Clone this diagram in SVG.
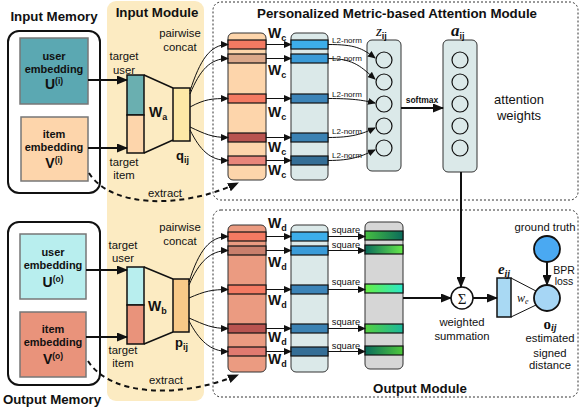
<svg xmlns="http://www.w3.org/2000/svg" width="581" height="409" viewBox="0 0 581 409">
<defs>
<style>
text{font-family:"Liberation Sans",Arial,sans-serif;fill:#111}
.t{font-size:13.3px;font-weight:bold}
.b11{font-size:11px;font-weight:bold}
.r11{font-size:11.3px}
.sm{font-size:8px}
.sq{font-size:9.3px}
.W{font-size:14px;font-weight:bold}
.sub{font-size:9px;font-weight:bold}
.ser{font-family:"Liberation Serif","Times New Roman",serif}
.mem{fill:none;stroke:#111;stroke-width:2}
.emb{stroke:#777;stroke-width:1.5}
.col{stroke:#333;stroke-width:1}
.stripe{stroke:#111;stroke-width:1.2}
.mod{fill:none;stroke:#333;stroke-width:1;stroke-dasharray:2,2}
.thin{fill:none;stroke:#111;stroke-width:1;marker-end:url(#ah)}
.thick{fill:none;stroke:#111;stroke-width:2;marker-end:url(#ahb)}
.dash{fill:none;stroke:#111;stroke-width:2;stroke-dasharray:5,4;marker-end:url(#ahb)}
.node{fill:none;stroke:#111;stroke-width:1.2}
.ln{fill:none;stroke:#111;stroke-width:1.5}
</style>
<marker id="ah" markerUnits="userSpaceOnUse" markerWidth="8" markerHeight="7" refX="7" refY="3.5" orient="auto"><path d="M0,0 L8,3.5 L0,7 z" fill="#111"/></marker>
<marker id="ahb" markerUnits="userSpaceOnUse" markerWidth="11" markerHeight="9" refX="10" refY="4.5" orient="auto"><path d="M0,0 L11,4.5 L0,9 z" fill="#111"/></marker>
<linearGradient id="g1" x1="0" x2="1"><stop offset="0" stop-color="#46c040"/><stop offset="1" stop-color="#0b6b5c"/></linearGradient>
<linearGradient id="g2" x1="0" x2="1"><stop offset="0" stop-color="#0b6b5c"/><stop offset="1" stop-color="#66e84a"/></linearGradient>
<linearGradient id="g3" x1="0" x2="1"><stop offset="0" stop-color="#66ee44"/><stop offset="1" stop-color="#2ce8c8"/></linearGradient>
<linearGradient id="g4" x1="0" x2="1"><stop offset="0" stop-color="#55d040"/><stop offset="1" stop-color="#1cb89c"/></linearGradient>
<linearGradient id="g5" x1="0" x2="1"><stop offset="0" stop-color="#0b6b5c"/><stop offset="1" stop-color="#4ec83c"/></linearGradient>
</defs>

<!-- backgrounds -->
<g id="input-module">
<rect x="107" y="1" width="97" height="400" rx="9" fill="#fcebc2"/>
<text class="t" x="157" y="17" text-anchor="middle">Input Module</text>
</g>
<g id="attention-module">
<rect class="mod" x="213" y="2" width="365" height="198" rx="8"/>
<text class="t" x="397" y="18" text-anchor="middle" textLength="280" lengthAdjust="spacingAndGlyphs">Personalized Metric-based Attention Module</text>
</g>
<g id="output-module">
<rect class="mod" x="213" y="210" width="365" height="187" rx="8"/>
<text class="t" x="420" y="393" text-anchor="middle">Output Module</text>
</g>

<!-- Input memory -->
<g id="input-memory">
<text class="t" x="54" y="21" text-anchor="middle">Input Memory</text>
<rect class="mem" x="8" y="31" width="92" height="162" rx="11"/>
</g>
<g id="user-emb-i">
<rect class="emb" x="20" y="38" width="68" height="66" fill="#5ba8b2"/>
<text class="b11" x="54" y="60" text-anchor="middle">user</text>
<text class="b11" x="54" y="73" text-anchor="middle">embedding</text>
<text x="54" y="89" text-anchor="middle" font-size="14" font-weight="bold">U<tspan font-size="8.5" dy="-5">(i)</tspan></text>
</g>
<g id="item-emb-i">
<rect class="emb" x="21" y="117" width="67" height="64" fill="#fdd5ab"/>
<text class="b11" x="54" y="138" text-anchor="middle">item</text>
<text class="b11" x="54" y="151" text-anchor="middle">embedding</text>
<text x="54" y="168" text-anchor="middle" font-size="14" font-weight="bold">V<tspan font-size="8.5" dy="-5">(i)</tspan></text>
</g>

<!-- Output memory -->
<g id="output-memory">
<rect class="mem" x="8" y="222" width="92" height="163" rx="11"/>
<text class="t" x="52" y="404" text-anchor="middle">Output Memory</text>
</g>
<g id="user-emb-o">
<rect class="emb" x="20" y="234" width="66" height="65" fill="#b8eeee"/>
<text class="b11" x="53" y="256" text-anchor="middle">user</text>
<text class="b11" x="53" y="269" text-anchor="middle">embedding</text>
<text x="53" y="287" text-anchor="middle" font-size="14" font-weight="bold">U<tspan font-size="8.5" dy="-5">(o)</tspan></text>
</g>
<g id="item-emb-o">
<rect class="emb" x="20" y="312" width="66" height="65" fill="#e9937b"/>
<text class="b11" x="53" y="333" text-anchor="middle">item</text>
<text class="b11" x="53" y="346" text-anchor="middle">embedding</text>
<text x="53" y="364" text-anchor="middle" font-size="14" font-weight="bold">V<tspan font-size="8.5" dy="-5">(o)</tspan></text>
</g>

<!-- input module contents (top) -->
<g id="stack-a">
<rect x="127" y="75" width="17" height="40" fill="#6aafb0" stroke="#111" stroke-width="1.5"/>
<rect x="127" y="115" width="17" height="38" fill="#fdd5ab" stroke="#111" stroke-width="1.5"/>
<path class="ln" d="M144,75 L173,88 M144,153 L173,140"/>
<text x="149" y="117" font-size="14" font-weight="bold">W<tspan class="sub" dy="3">a</tspan></text>
<rect x="173" y="88" width="17" height="53" fill="#fde9a6" stroke="#111" stroke-width="1.5"/>
<text x="176" y="160" font-size="13" font-weight="bold">q<tspan class="sub" font-size="8" dy="3">ij</tspan></text>
<text class="r11" x="124" y="60" text-anchor="middle">target</text>
<text class="r11" x="124" y="74" text-anchor="middle">user</text>
<text class="r11" x="124" y="166" text-anchor="middle">target</text>
<text class="r11" x="124" y="179" text-anchor="middle">item</text>
<text class="r11" x="180" y="37" text-anchor="middle">pairwise</text>
<text class="r11" x="180" y="51" text-anchor="middle">concat</text>
<text class="r11" x="165" y="197" text-anchor="middle">extract</text>
</g>
<g id="stack-b">
<rect x="127" y="267" width="17" height="38" fill="#b8eeee" stroke="#111" stroke-width="1.5"/>
<rect x="127" y="305" width="17" height="39" fill="#e9937b" stroke="#111" stroke-width="1.5"/>
<path class="ln" d="M144,267 L173,279 M144,344 L173,332"/>
<text x="148" y="311" font-size="14" font-weight="bold">W<tspan class="sub" dy="3">b</tspan></text>
<rect x="173" y="279" width="16" height="53" fill="#f8c988" stroke="#111" stroke-width="1.5"/>
<text x="175" y="347" font-size="13" font-weight="bold">p<tspan class="sub" font-size="8" dy="3">ij</tspan></text>
<text class="r11" x="123" y="249" text-anchor="middle">target</text>
<text class="r11" x="123" y="262" text-anchor="middle">user</text>
<text class="r11" x="123" y="354" text-anchor="middle">target</text>
<text class="r11" x="123" y="367" text-anchor="middle">item</text>
<text class="r11" x="180" y="231" text-anchor="middle">pairwise</text>
<text class="r11" x="180" y="245" text-anchor="middle">concat</text>
<text class="r11" x="166" y="384" text-anchor="middle">extract</text>
</g>

<!-- top columns -->
<g id="mem-col-a">
<rect class="col" x="228" y="33" width="38" height="147" rx="5" fill="#fdd5ab"/>
<rect class="stripe" x="228" y="40" width="38" height="9" fill="#f47a62"/>
<rect class="stripe" x="228" y="54" width="38" height="9" fill="#dca88a"/>
<rect class="stripe" x="228" y="94" width="38" height="9" fill="#f47a62"/>
<rect class="stripe" x="228" y="133" width="38" height="9" fill="#b95450"/>
<rect class="stripe" x="228" y="156" width="38" height="9" fill="#e8857a"/>
</g>
<g id="key-col-a">
<rect class="col" x="291" y="33" width="37" height="147" rx="5" fill="#dbe9e9"/>
<rect class="stripe" x="291" y="40" width="37" height="9" fill="#3daeea"/>
<rect class="stripe" x="291" y="54" width="37" height="9" fill="#3a9bd8"/>
<rect class="stripe" x="291" y="94" width="37" height="9" fill="#3c84b8"/>
<rect class="stripe" x="291" y="133" width="37" height="9" fill="#3b82b3"/>
<rect class="stripe" x="291" y="156" width="37" height="9" fill="#356e96"/>
</g>
<g id="z-col">
<rect class="col" x="367" y="40" width="34" height="131" rx="5" fill="#dbe9e9"/>
<circle class="node" cx="384" cy="60" r="8"/>
<circle class="node" cx="384" cy="82" r="8"/>
<circle class="node" cx="384" cy="104" r="8"/>
<circle class="node" cx="384" cy="126" r="8"/>
<circle class="node" cx="384" cy="148" r="8"/>
<text class="ser" x="376" y="36" font-size="15" font-style="italic">z<tspan font-family="Liberation Sans" font-size="9" font-style="normal" font-weight="bold" dy="3">ij</tspan></text>
</g>
<g id="a-col">
<rect class="col" x="443" y="40" width="34" height="132" rx="5" fill="#dbe9e9"/>
<circle class="node" cx="460" cy="60" r="8"/>
<circle class="node" cx="460" cy="82" r="8"/>
<circle class="node" cx="460" cy="104" r="8"/>
<circle class="node" cx="460" cy="126" r="8"/>
<circle class="node" cx="460" cy="148" r="8"/>
<text class="ser" x="451" y="36" font-size="17" font-style="italic" font-weight="bold">a<tspan font-family="Liberation Sans" font-size="9" font-style="normal" dy="3">ij</tspan></text>
<text x="519" y="104" font-size="13" text-anchor="middle">attention</text>
<text x="519" y="120" font-size="13" text-anchor="middle">weights</text>
</g>

<!-- bottom columns -->
<g id="mem-col-b">
<rect class="col" x="228" y="225" width="38" height="147" rx="5" fill="#eb9b81"/>
<rect class="stripe" x="228" y="232" width="38" height="9" fill="#f47a62"/>
<rect class="stripe" x="228" y="246" width="38" height="9" fill="#c97f6c"/>
<rect class="stripe" x="228" y="285" width="38" height="9" fill="#f47a62"/>
<rect class="stripe" x="228" y="324" width="38" height="9" fill="#b95450"/>
<rect class="stripe" x="228" y="347" width="38" height="9" fill="#e07a70"/>
</g>
<g id="key-col-b">
<rect class="col" x="291" y="225" width="37" height="147" rx="5" fill="#dbe9e9"/>
<rect class="stripe" x="291" y="232" width="37" height="9" fill="#3daeea"/>
<rect class="stripe" x="291" y="246" width="37" height="9" fill="#3a9bd8"/>
<rect class="stripe" x="291" y="285" width="37" height="9" fill="#3c84b8"/>
<rect class="stripe" x="291" y="324" width="37" height="9" fill="#3b82b3"/>
<rect class="stripe" x="291" y="347" width="37" height="9" fill="#356e96"/>
</g>
<g id="sq-col">
<rect class="col" x="365" y="222" width="38" height="147" rx="5" fill="#d6d6d6"/>
<rect class="stripe" x="365" y="231" width="38" height="9" fill="url(#g1)"/>
<rect class="stripe" x="365" y="245" width="38" height="9" fill="url(#g2)"/>
<rect class="stripe" x="365" y="284" width="38" height="9" fill="url(#g3)"/>
<rect class="stripe" x="365" y="324" width="38" height="9" fill="url(#g4)"/>
<rect class="stripe" x="365" y="346" width="38" height="9" fill="url(#g5)"/>
</g>
<g id="sum">
<circle cx="462" cy="298" r="11" fill="#fff" stroke="#111" stroke-width="1.5"/>
<text class="ser" x="462" y="303.5" font-size="15" text-anchor="middle">Σ</text>
<text class="r11" x="462" y="326" text-anchor="middle">weighted</text>
<text class="r11" x="462" y="340" text-anchor="middle">summation</text>
</g>
<g id="e-node">
<rect x="497" y="278" width="14" height="39" fill="#a9d9f3" stroke="#111" stroke-width="1.5"/>
<text class="ser" x="504" y="274" font-size="15" font-style="italic" font-weight="bold" text-anchor="middle">e<tspan font-size="10" dy="3">ij</tspan></text>
<path d="M511,278 L536,291 M511,317 L536,305" stroke="#111" stroke-width="1" fill="none"/>
<text class="ser" x="517" y="302" font-size="12" font-style="italic">w<tspan font-size="8" dy="2">e</tspan></text>
</g>
<g id="o-node">
<circle cx="547" cy="298" r="13" fill="#a6d6f5" stroke="#111" stroke-width="1.8"/>
<text class="ser" x="550" y="329" font-size="15" font-weight="bold" text-anchor="middle">o<tspan font-size="10" font-style="italic" dy="2">ij</tspan></text>
<text class="r11" x="550" y="342" text-anchor="middle">estimated</text>
<text class="r11" x="550" y="357" text-anchor="middle">signed</text>
<text class="r11" x="550" y="369" text-anchor="middle">distance</text>
</g>
<g id="ground-truth">
<circle cx="547" cy="249" r="13" fill="#4aa9f2" stroke="#111" stroke-width="1.8"/>
<text class="r11" x="545" y="231" text-anchor="middle">ground truth</text>
<text x="564" y="274" font-size="10.5" text-anchor="middle">BPR</text>
<text x="564" y="285" font-size="10.5" text-anchor="middle">loss</text>
</g>

<!-- connectors -->
<g id="connectors">
<path class="thick" d="M88,80 L127,80"/>
<path class="thick" d="M88,148 L127,148"/>
<path class="thick" d="M86,270 L127,270"/>
<path class="thick" d="M86,337 L127,337"/>
<path class="dash" d="M89,173 C110,207 180,210 238,183"/>
<path class="dash" d="M88,361 C110,396 180,399 238,375"/>

<path class="thin" d="M190,91 C200,60 210,44.5 228,44.5"/>
<path class="thin" d="M190,94 C200,70 210,58.5 228,58.5"/>
<path class="thin" d="M190,107 C205,99 212,98.5 228,98.5"/>
<path class="thin" d="M190,127 C205,134 212,137.5 228,137.5"/>
<path class="thin" d="M190,130 C200,150 210,160.5 228,160.5"/>

<path class="thin" d="M189,282 C199,250 210,236.5 228,236.5"/>
<path class="thin" d="M189,285 C199,262 210,250.5 228,250.5"/>
<path class="thin" d="M189,298 C205,291 212,289.5 228,289.5"/>
<path class="thin" d="M189,318 C205,325 212,328.5 228,328.5"/>
<path class="thin" d="M189,321 C199,340 210,351.5 228,351.5"/>

<path class="thin" d="M266,44.5 L291,44.5"/>
<path class="thin" d="M266,58.5 L291,58.5"/>
<path class="thin" d="M266,98.5 L291,98.5"/>
<path class="thin" d="M266,137.5 L291,137.5"/>
<path class="thin" d="M266,160.5 L291,160.5"/>
<text x="268" y="38" font-size="14" font-weight="bold">W<tspan class="sub" dy="3">c</tspan></text>
<text x="268" y="75" font-size="14" font-weight="bold">W<tspan class="sub" dy="3">c</tspan></text>
<text x="268" y="117" font-size="14" font-weight="bold">W<tspan class="sub" dy="3">c</tspan></text>
<text x="268" y="152" font-size="14" font-weight="bold">W<tspan class="sub" dy="3">c</tspan></text>
<text x="268" y="175" font-size="14" font-weight="bold">W<tspan class="sub" dy="3">c</tspan></text>

<path class="thin" d="M266,236.5 L291,236.5"/>
<path class="thin" d="M266,250.5 L291,250.5"/>
<path class="thin" d="M266,289.5 L291,289.5"/>
<path class="thin" d="M266,328.5 L291,328.5"/>
<path class="thin" d="M266,351.5 L291,351.5"/>
<text x="268" y="228" font-size="14" font-weight="bold">W<tspan class="sub" dy="3">d</tspan></text>
<text x="268" y="267" font-size="14" font-weight="bold">W<tspan class="sub" dy="3">d</tspan></text>
<text x="268" y="305" font-size="14" font-weight="bold">W<tspan class="sub" dy="3">d</tspan></text>
<text x="268" y="342" font-size="14" font-weight="bold">W<tspan class="sub" dy="3">d</tspan></text>
<text x="268" y="364" font-size="14" font-weight="bold">W<tspan class="sub" dy="3">d</tspan></text>

<path class="thin" d="M328,44.5 C355,44.5 362,48 375,58"/>
<path class="thin" d="M328,58.5 C355,58.5 362,68 375,79"/>
<path class="thin" d="M328,98.5 C352,98.5 362,100 375,103"/>
<path class="thin" d="M328,137.5 C352,137.5 362,134 375,128"/>
<path class="thin" d="M328,160.5 C352,160.5 362,156 375,150"/>
<text class="sm" x="347" y="43" text-anchor="middle">L2-norm</text>
<text class="sm" x="347" y="61" text-anchor="middle">L2-norm</text>
<text class="sm" x="347" y="97" text-anchor="middle">L2-norm</text>
<text class="sm" x="347" y="134" text-anchor="middle">L2-norm</text>
<text class="sm" x="347" y="158" text-anchor="middle">L2-norm</text>

<path class="thick" d="M401,108 L443,108"/>
<text x="422" y="103" font-size="8.5" font-weight="bold" text-anchor="middle">softmax</text>

<path class="thin" d="M328,236.5 L365,236.5"/>
<path class="thin" d="M328,250.5 L365,250.5"/>
<path class="thin" d="M328,289.5 L365,289.5"/>
<path class="thin" d="M328,328.5 L365,328.5"/>
<path class="thin" d="M328,351.5 L365,351.5"/>
<text class="sq" x="346" y="233" text-anchor="middle">square</text>
<text class="sq" x="346" y="248" text-anchor="middle">square</text>
<text class="sq" x="346" y="285" text-anchor="middle">square</text>
<text class="sq" x="346" y="325" text-anchor="middle">square</text>
<text class="sq" x="346" y="349" text-anchor="middle">square</text>

<path class="thick" d="M461,172 L461,287"/>
<path class="thick" d="M403,298 L451,298"/>
<path class="thick" d="M473,298 L497,298"/>
<path class="thick" d="M547,262 L547,285"/>
</g>
</svg>
